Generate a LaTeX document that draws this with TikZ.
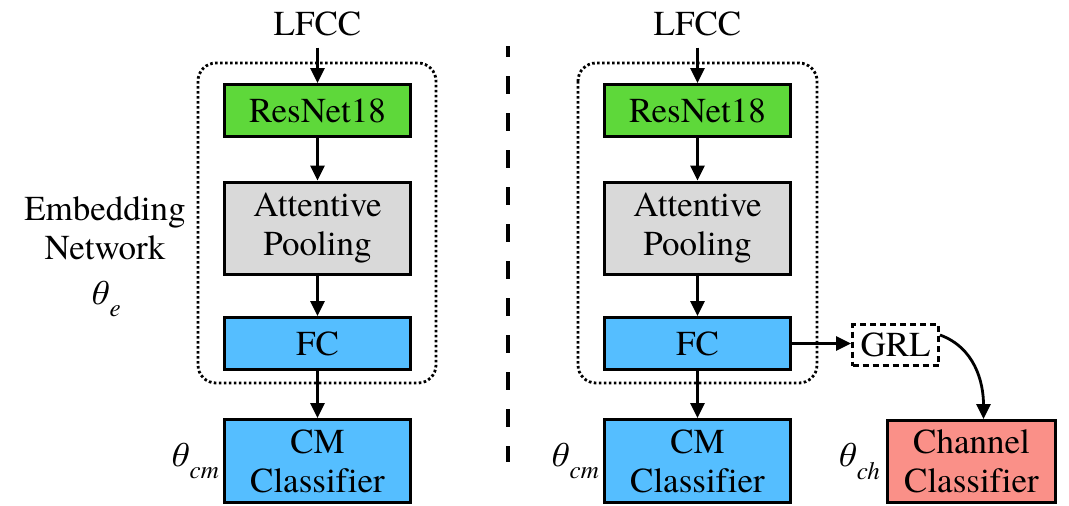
\documentclass[tikz,border=0pt]{standalone}
\usepackage{fontspec}
\setmainfont{texgyretermes}[Extension=.otf, UprightFont=*-regular, ItalicFont=*-italic, BoldFont=*-bold, BoldItalicFont=*-bolditalic, Ligatures=NoCommon]
\usetikzlibrary{arrows.meta}
\definecolor{resgreen}{HTML}{5ED83A}
\definecolor{poolgray}{HTML}{D9D9D9}
\definecolor{fcblue}{HTML}{55BEFF}
\definecolor{chred}{HTML}{FA9088}
\tikzset{
  blk/.style={draw=black, line width=3pt, minimum width=186pt, inner sep=0pt, align=center,
    font=\fontsize{35}{39}\selectfont},
  lbl/.style={inner sep=0pt, align=center, font=\fontsize{35}{39}\selectfont},
  arr/.style={line width=2.8pt, -{Triangle[length=15pt,width=14pt]}},
  grp/.style={line width=2.8pt, dash pattern=on 2.6pt off 2.4pt, rounded corners=18pt},
}
\newcommand{\thsub}[1]{\textit{θ}\raisebox{-0.35em}{\fontsize{25}{25}\selectfont\textit{#1}}}
\begin{document}
\begin{tikzpicture}[x=1pt,y=-1pt]
\useasboundingbox (0,0) rectangle (1069,506);
% separator
\draw[line width=3.5pt, dash pattern=on 18pt off 19pt, dash phase=7pt] (508,46) -- (508,462);
% ---------- left column ----------
\draw[grp] (198,63) rectangle (436,383);
\node[lbl, anchor=base] (lfccA) at (317.5,35) {LFCC};
\node[blk, fill=resgreen, minimum height=52pt] (resA) at (317.5,110.5) {ResNet18};
\node[blk, fill=poolgray, minimum height=92pt] (poolA) at (317.5,228) {Attentive\\Pooling};
\node[blk, fill=fcblue, minimum height=52pt] (fcA) at (317.5,343.5) {FC};
\node[blk, fill=fcblue, minimum height=83pt] (cmA) at (317.5,461) {CM\\Classifier};
\node[lbl] (emb) at (105,257) {Embedding\\Network\\[6pt]\thsub{e}};
\node[lbl, anchor=east] (thcmA) at ([xshift=-4pt]cmA.west) {\thsub{cm}};
\draw[arr, shorten <=12pt] (lfccA.south) -- (resA.north);
\draw[arr] (resA.south) -- (poolA.north);
\draw[arr] (poolA.south) -- (fcA.north);
\draw[arr] (fcA.south) -- (cmA.north);
% ---------- right column ----------
\draw[grp] (578,63) rectangle (817,383);
\node[lbl, anchor=base] (lfccB) at (697.5,35) {LFCC};
\node[blk, fill=resgreen, minimum height=52pt] (resB) at (697.5,110.5) {ResNet18};
\node[blk, fill=poolgray, minimum height=92pt] (poolB) at (697.5,228) {Attentive\\Pooling};
\node[blk, fill=fcblue, minimum height=52pt] (fcB) at (697.5,343.5) {FC};
\node[blk, fill=fcblue, minimum height=83pt] (cmB) at (697.5,461) {CM\\Classifier};
\node[lbl, anchor=east] (thcmB) at ([xshift=-4pt]cmB.west) {\thsub{cm}};
\node[blk, draw, dash pattern=on 6pt off 4pt, minimum width=86pt, minimum height=41pt] (grl) at (895.5,345) {GRL};
\node[blk, fill=chred, minimum width=168pt, minimum height=82pt] (chc) at (971.5,461.5) {Channel\\Classifier};
\node[lbl, anchor=east] (thch) at ([xshift=-6pt]chc.west) {\thsub{ch}};
\draw[arr, shorten <=12pt] (lfccB.south) -- (resB.north);
\draw[arr] (resB.south) -- (poolB.north);
\draw[arr] (poolB.south) -- (fcB.north);
\draw[arr] (fcB.south) -- (cmB.north);
\draw[arr] (fcB.east) -- (grl.west |- fcB.east);
\draw[arr] ([yshift=10pt]grl.east) to[out=-20,in=90] ([xshift=12pt]chc.north);
\end{tikzpicture}
\end{document}
